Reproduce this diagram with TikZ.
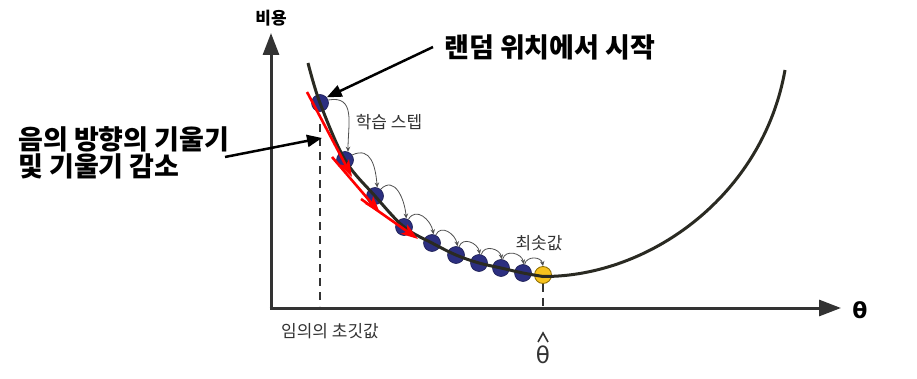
\documentclass[tikz,border=0pt]{standalone}
\usepackage{fontspec}
\newfontfamily\kr{Noto Sans CJK KR}
\newfontfamily\dvs{DejaVu Sans}
\usetikzlibrary{arrows.meta}
\definecolor{axisgray}{HTML}{333333}
\definecolor{curvecol}{HTML}{2A2A22}
\definecolor{dotblue}{HTML}{2C2F80}
\definecolor{dotedge}{HTML}{1A1C50}
\definecolor{dotyellow}{HTML}{F7C21E}
\definecolor{yellowedge}{HTML}{8A6A00}
\definecolor{labelgray}{HTML}{333333}
\definecolor{stepgray}{HTML}{505050}
\tikzset{
  axisline/.style={line width=3pt, draw=axisgray, -{Triangle[length=22pt,width=16pt]}},
  costcurve/.style={line width=3pt, draw=curvecol},
  bluedot/.style={circle, minimum size=17pt, inner sep=0pt, fill=dotblue, draw=dotedge, line width=0.6pt},
  golddot/.style={circle, minimum size=17pt, inner sep=0pt, fill=dotyellow, draw=yellowedge, line width=0.8pt},
  steparrow/.style={draw=stepgray, line width=0.8pt, looseness=1.3, -{Stealth[length=5pt,width=4.5pt]}},
  gradarrow/.style={draw=red, line width=2.6pt, -{Stealth[length=17pt,width=11pt,inset=4pt]}},
  callout/.style={draw=black, line width=2.5pt, -{Triangle[length=15pt,width=12pt]}},
  guide/.style={draw=axisgray, line width=2pt, dash pattern=on 8pt off 6pt},
  bigtext/.style={font=\kr\bfseries\fontsize{27}{27}\selectfont, text=black, inner sep=0pt},
  smalltext/.style={font=\kr\fontsize{17}{19}\selectfont, text=labelgray, inner sep=0pt},
}
\begin{document}
\begin{tikzpicture}[x=1pt,y=1pt]
\useasboundingbox (0,0) rectangle (917,-379);
% axes
\coordinate (origin) at (271,-308);
\coordinate (ytip) at (271,-33);
\coordinate (xtip) at (841,-308);
\draw[axisline] (origin) -- (ytip);
\draw[axisline] (269.5,-308) -- (xtip);
\node[font=\kr\bfseries\fontsize{17}{19}\selectfont, inner sep=0pt] (ylab) at (271,-18) {비용};
\node[font=\dvs\bfseries\fontsize{22}{24}\selectfont, inner sep=0pt] (xlab) at (860,-310) {θ};
% dots
\node[bluedot] (d1) at (320,-103) {};
\node[bluedot] (d2) at (345,-160) {};
\node[bluedot] (d3) at (375,-196) {};
\node[bluedot] (d4) at (404,-227) {};
\node[bluedot] (d5) at (432,-243) {};
\node[bluedot] (d6) at (456,-255) {};
\node[bluedot] (d7) at (479,-263) {};
\node[bluedot] (d8) at (501,-268) {};
\node[bluedot] (d9) at (523,-273) {};
\node[golddot] (dm) at (543,-275) {};
% guides
\coordinate (g1) at (320,-124);
\coordinate (g1b) at (320,-306);
\coordinate (g2b) at (543,-306);
\draw[guide] (g1) -- (g1b);
\draw[guide] (dm.south) -- (g2b);
% curve
\draw[costcurve] plot[smooth, tension=0.55] coordinates {
 (308,-63) (320,-103) (345,-160) (375,-196) (404,-227) (432,-243) (456,-255)
 (479,-263) (501,-268) (523,-273) (543,-276.5)}
 .. controls (650,-277) and (763,-195) .. (785,-70);
% step arcs
\draw[steparrow] (d1.20) to[out=10,in=90] (d2.70);
\draw[steparrow] (d2.35) to[out=25,in=95] (d3.75);
\draw[steparrow] (d3.50) to[out=45,in=95] (d4.75);
\draw[steparrow] (d4.60) to[out=60,in=100] (d5.80);
\draw[steparrow] (d5.65) to[out=65,in=100] (d6.80);
\draw[steparrow] (d6.70) to[out=70,in=100] (d7.85);
\draw[steparrow] (d7.75) to[out=75,in=100] (d8.85);
\draw[steparrow] (d8.80) to[out=75,in=100] (d9.85);
\draw[steparrow] (d9.80) to[out=75,in=100] (dm.90);
% gradient arrows
\coordinate (r1a) at (307,-92);  \coordinate (r1b) at (352,-177);
\coordinate (r2a) at (332,-157); \coordinate (r2b) at (380,-213);
\coordinate (r3a) at (361,-199); \coordinate (r3b) at (418,-239);
\draw[gradarrow] (r1a) -- (r1b);
\draw[gradarrow] (r2a) -- (r2b);
\draw[gradarrow] (r3a) -- (r3b);
% labels
\node[smalltext] (steplab) at (389,-122) {학습 스텝};
\node[smalltext] (minlab) at (539,-243) {최솟값};
\node[smalltext] (initlab) at (330,-331) {임의의 초깃값};
\node[font=\dvs\fontsize{23}{25}\selectfont, text=labelgray, inner sep=0pt] (thetahat) at (543,-355) {θ};
\coordinate (h1) at (538,-342); \coordinate (h2) at (543,-333); \coordinate (h3) at (548,-342);
\draw[labelgray, line width=1.6pt] (h1) -- (h2) -- (h3);
% callouts
\node[bigtext, anchor=west] (start) at (444,-47) {랜덤 위치에서 시작};
\node[bigtext, anchor=west, align=left] (neg) at (18,-153) {음의 방향의 기울기\\및 기울기 감소};
\coordinate (c1) at (433,-47);
\coordinate (c2) at (225,-157);
\coordinate (c2tip) at (322,-138);
\draw[callout] (c1) -- (d1.40);
\draw[callout] (c2) -- (c2tip);
\end{tikzpicture}
\end{document}
